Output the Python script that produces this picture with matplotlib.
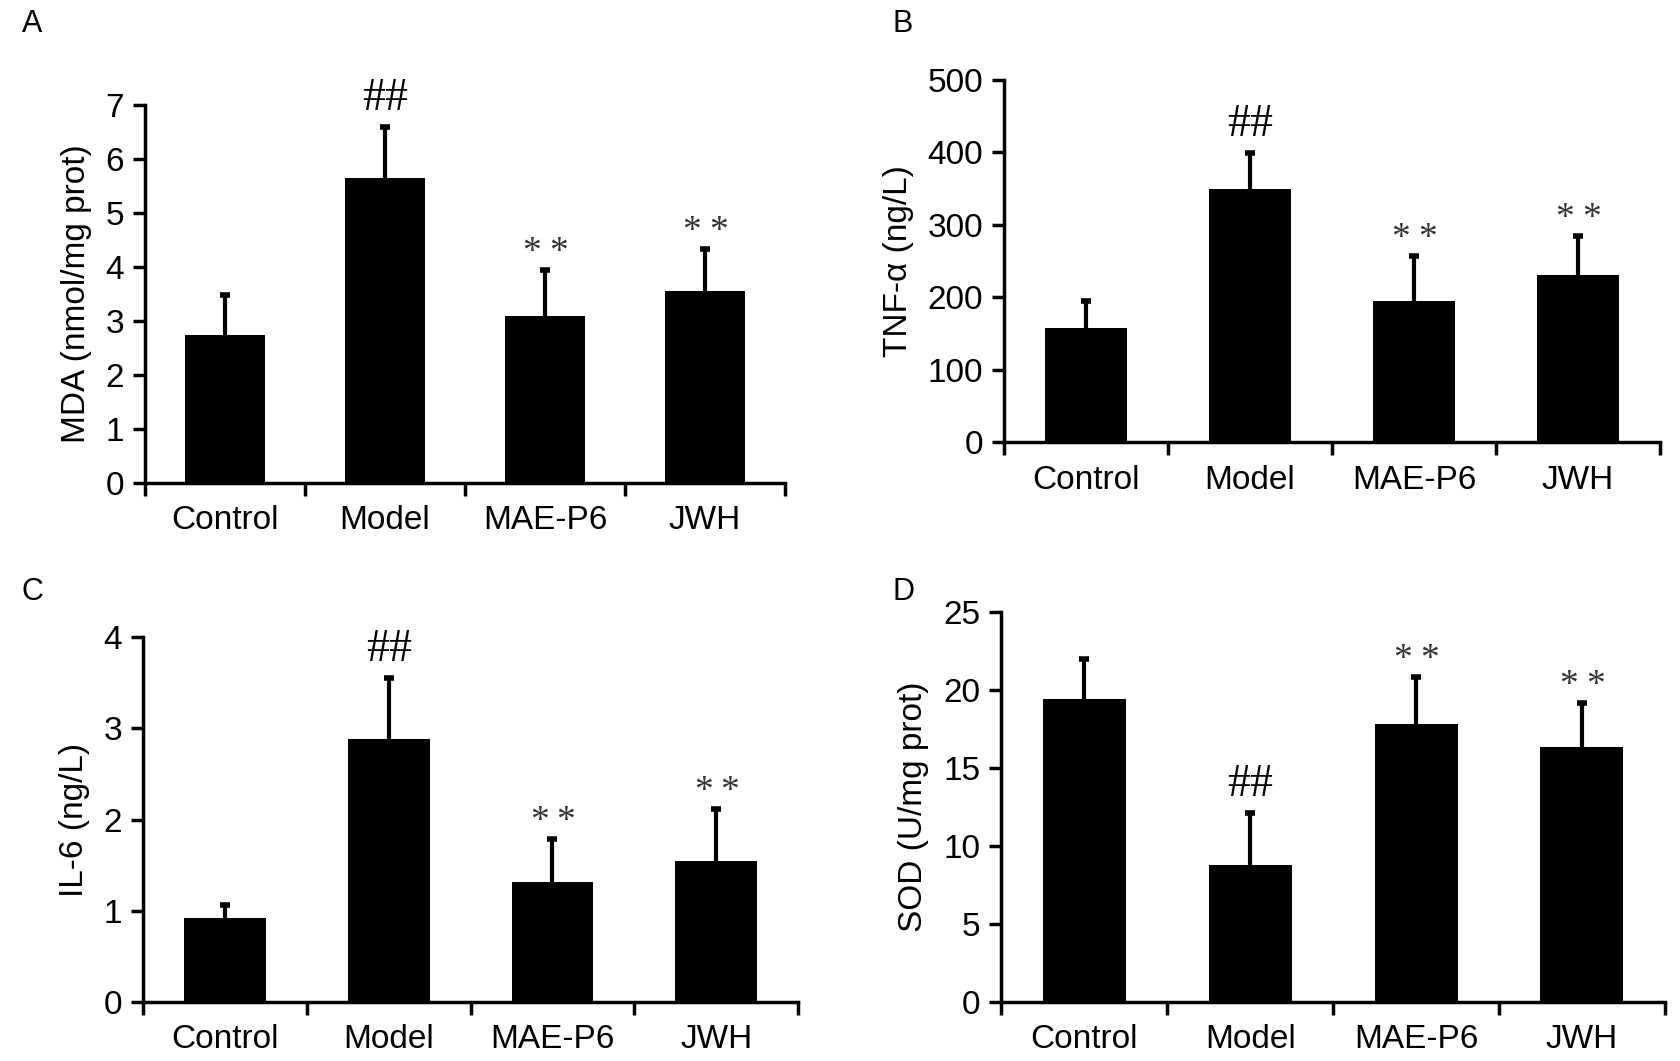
import matplotlib
matplotlib.use('Agg')
import matplotlib.pyplot as plt

plt.rcParams['font.family'] = ['Liberation Sans', 'DejaVu Sans']

groups = ['Control', 'Model', 'MAE-P6', 'JWH']

# panel A: MDA
mda = [2.74, 5.65, 3.09, 3.55]
mda_err = [0.74, 0.95, 0.85, 0.79]
# panel B: TNF-a
tnf = [158, 349, 195, 231]
tnf_err = [37, 50, 62, 54]
# panel C: IL-6
il6 = [0.92, 2.88, 1.32, 1.55]
il6_err = [0.14, 0.67, 0.47, 0.56]
# panel D: SOD
sod = [19.4, 8.8, 17.8, 16.3]
sod_err = [2.55, 3.3, 3.0, 2.85]

mda_marks = ['', '##', '**', '**']
tnf_marks = ['', '##', '**', '**']
il6_marks = ['', '##', '**', '**']
sod_marks = ['', '##', '**', '**']

fig = plt.figure(figsize=(16.8, 10.61), dpi=100)

panels = [
    # letter, rect, values, errors, marks, ylabel, ylim, yticks
    ('A', [0.0863, 0.5448, 0.381, 0.356], mda, mda_err, mda_marks,
     'MDA (nmol/mg prot)', 7, range(0, 8, 1)),
    ('B', [0.5976, 0.583, 0.3905, 0.342], tnf, tnf_err, tnf_marks,
     'TNF-α (ng/L)', 500, range(0, 501, 100)),
    ('C', [0.0851, 0.0556, 0.390, 0.344], il6, il6_err, il6_marks,
     'IL-6 (ng/L)', 4, range(0, 5, 1)),
    ('D', [0.596, 0.0556, 0.395, 0.368], sod, sod_err, sod_marks,
     'SOD (U/mg prot)', 25, range(0, 26, 5)),
]

letter_pos = {'A': (0.013, 0.977), 'B': (0.531, 0.977),
              'C': (0.013, 0.442), 'D': (0.531, 0.442)}

for letter, rect, vals, errs, marks, ylab, ytop, yt in panels:
    ax = fig.add_axes(rect)
    x = list(range(len(groups)))
    ax.bar(x, vals, width=0.5, color='black', zorder=2)
    eb = ax.errorbar(x, vals, yerr=[[0] * len(errs), errs], fmt='none',
                     ecolor='black', elinewidth=3, capsize=3.5, capthick=4,
                     zorder=1)
    # only the upper cap is wanted
    for cap in eb[1]:
        if list(cap.get_ydata()) == list(vals):
            cap.set_visible(False)
    for xi, v, e, m in zip(x, vals, errs, marks):
        if m == '##':
            ax.annotate(m, (xi, v + e), xytext=(0, 5),
                        textcoords='offset points', ha='center', va='bottom',
                        fontsize=33, family='Liberation Serif')
        elif m:
            # asterisks drawn one by one, spread apart like in the figure
            n = len(m)
            for k in range(n):
                dx = (k - (n - 1) / 2) * 19
                ax.annotate('*', (xi, v + e), xytext=(dx, 0),
                            textcoords='offset points', ha='center',
                            va='bottom', fontsize=27,
                            family='Liberation Serif', color='#333333')
    ax.set_xlim(-0.5, 3.5)
    ax.set_ylim(0, ytop)
    ax.set_yticks(list(yt))
    ax.set_xticks([-0.5, 0.5, 1.5, 2.5, 3.5])
    ax.set_xticklabels([])
    ax.set_xticks(x, minor=True)
    ax.set_xticklabels(groups, minor=True)
    ax.tick_params(axis='x', which='minor', length=0, pad=16, labelsize=24)
    ax.tick_params(axis='both', which='major', direction='out', length=9,
                   width=2.5, labelsize=24, pad=6)
    for s in ['top', 'right']:
        ax.spines[s].set_visible(False)
    for s in ['left', 'bottom']:
        ax.spines[s].set_linewidth(2.5)
    ax.set_ylabel(ylab, fontsize=24, labelpad=10)
    fig.text(letter_pos[letter][0], letter_pos[letter][1], letter,
             fontsize=22, ha='left', va='center')

fig.savefig('out.png', dpi=100)
